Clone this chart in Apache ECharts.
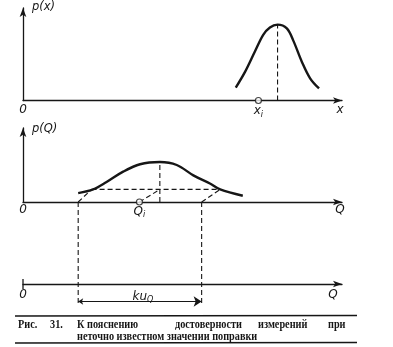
<!DOCTYPE html>
<html>
<head>
<meta charset="utf-8">
<script src="https://cdn.jsdelivr.net/npm/echarts@6/dist/echarts.min.js"></script>
<style>html,body{margin:0;padding:0;background:#fff}#c{width:393px;height:347px}</style>
</head>
<body>
<div id="c"></div>
<script>
// ---- top panel: p(x) ----
const xCurve = [66.7, 69.6, 72.7, 75.3, 77.4, 79.8, 82.7, 84.7, 87.4, 90.0, 92.8];
const pxCurve = [0.14, 0.31, 0.53, 0.71, 0.79, 0.82, 0.78, 0.65, 0.42, 0.24, 0.13];
const xPeak = 79.8, pxPeak = 0.82, xMeas = 73.8;
const topLabels = [[0, '0'], [73.8, 'xi'], [99.4, 'x']];
// ---- middle panel: p(Q) ----
const qCurve = [17.3, 22.0, 26.2, 31.4, 36.7, 42.9, 48.2, 53.4, 58.6, 61.8, 68.9];
const pqCurve = [0.12, 0.17, 0.27, 0.41, 0.51, 0.54, 0.50, 0.36, 0.25, 0.17, 0.085];
const qPeak = 42.9, pqPeak = 0.54, qMeas = 36.5;
const level = 0.17, levelLeft = 21.5, levelRight = 61.8;
const qLow = 17.3, qHigh = 56.0;
const midLabels = [[0, '0'], [36.5, 'Qi'], [99.4, 'Q']];
// ---- bottom panel ----
const botLabels = [[0, '0'], [37.6, 'kuQ'], [97.2, 'Q']];
const bandTop = 82, bandBottom = -22, arrowLevel = -17.5, tickHalf = 5;
const caption1 = [['Рис.', 18], ['31.', 50], ['К пояснению', 77], ['достоверности', 175], ['измерений', 258], ['при', 328]];
const caption2 = 'неточно известном значении поправки';

const INK = '#161616';
const lblFont = 'DejaVu Sans';
const rich = {
  m: {fontFamily: lblFont, fontStyle: 'italic', fontSize: 12, color: INK},
  s: {fontFamily: lblFont, fontStyle: 'italic', fontSize: 8, color: INK, padding: [7, 0, 0, 0]}
};
function fmt(map) {
  return function (v) {
    for (const [k, t] of map) {
      if (Math.abs(k - v) < 0.01) {
        if (t === 'xi') return '{m|x}{s|i}';
        if (t === 'Qi') return '{m|Q}{s|i}';
        if (t === 'kuQ') return '{m|ku}{s|Q}';
        return '{m|' + t + '}';
      }
    }
    return '';
  };
}
function xAx(grid, labels, margin) {
  return {
    type: 'value', gridIndex: grid, min: 0, max: 100,
    axisLine: {show: true, onZero: false, symbol: ['none', 'arrow'], symbolSize: [5, 9], lineStyle: {color: INK, width: 1.3}},
    axisTick: {show: false}, splitLine: {show: false},
    axisLabel: {show: true, customValues: labels.map(l => l[0]), formatter: fmt(labels), margin: margin, rich: rich, color: INK}
  };
}
function yAx(grid, name, show, min, max, gap) {
  return {
    type: 'value', gridIndex: grid, min: min, max: max, show: show,
    name: name, nameLocation: 'end', nameGap: gap,
    nameTextStyle: {fontFamily: lblFont, fontStyle: 'italic', fontSize: 11.5, color: INK, align: 'left', verticalAlign: 'middle', padding: [0, 0, 0, 9]},
    axisLine: {show: show, symbol: ['none', 'arrow'], symbolSize: [5, 9], lineStyle: {color: INK, width: 1.3}},
    axisTick: {show: false}, axisLabel: {show: false}, splitLine: {show: false}
  };
}
const dashed = {color: INK, width: 1.1, type: [5, 3]};
function seg(grid, pts, style) {
  return {type: 'line', xAxisIndex: grid, yAxisIndex: grid, data: pts, symbol: 'none', lineStyle: style, silent: true, clip: false};
}
function curve(grid, xs, ys) {
  return {type: 'line', xAxisIndex: grid, yAxisIndex: grid, smooth: 0.35, symbol: 'none',
    data: xs.map((x, i) => [x, ys[i]]), lineStyle: {color: INK, width: 2.4}};
}
function ring(grid, x) {
  return {type: 'scatter', xAxisIndex: grid, yAxisIndex: grid, data: [[x, 0]], symbol: 'circle', symbolSize: 6,
    itemStyle: {color: '#fff', borderColor: INK, borderWidth: 1.2}, z: 5, clip: false};
}

const capFont = 'bold 12.5px "Liberation Serif"';
const graphics = [];
graphics.push({type: 'line', shape: {x1: 15, y1: 316, x2: 357, y2: 315.5}, style: {stroke: INK, lineWidth: 1.6}});
graphics.push({type: 'line', shape: {x1: 15, y1: 343, x2: 357, y2: 342.5}, style: {stroke: INK, lineWidth: 1.4}});
for (const [t, x] of caption1) {
  graphics.push({type: 'text', x: x, y: 318, scaleX: 0.82, style: {text: t, font: capFont, fill: INK, verticalAlign: 'top'}});
}
graphics.push({type: 'text', x: 77, y: 330, scaleX: 0.82, style: {text: caption2, font: capFont, fill: INK, verticalAlign: 'top'}});

const option = {
  backgroundColor: '#fff',
  animation: false,
  grid: [
    {left: 23, right: 51, top: 8, height: 92.5},
    {left: 23, right: 51, top: 128, height: 74},
    {left: 23, right: 51, top: 202, height: 82}
  ],
  xAxis: [xAx(0, topLabels, 3), xAx(1, midLabels, 2), xAx(2, botLabels, 5)],
  yAxis: [yAx(0, 'p(x)', true, 0, 1, 1), yAx(1, 'p(Q)', true, 0, 1, -1), yAx(2, '', false, 0, bandTop, 0)],
  graphic: graphics,
  series: [
    curve(0, xCurve, pxCurve),
    seg(0, [[xPeak, 0], [xPeak, pxPeak]], dashed),
    ring(0, xMeas),
    curve(1, qCurve, pqCurve),
    seg(1, [[levelLeft, level], [levelRight, level]], dashed),
    seg(1, [[qPeak, 0], [qPeak, pqPeak]], dashed),
    seg(1, [[qLow, 0], [levelLeft, level]], dashed),
    seg(1, [[qMeas, 0], [qPeak, level]], dashed),
    seg(1, [[qHigh, 0], [levelRight, level]], dashed),
    ring(1, qMeas),
    seg(2, [[qLow, bandTop], [qLow, bandBottom]], dashed),
    seg(2, [[qHigh, bandTop], [qHigh, bandBottom]], dashed),
    seg(2, [[0, -tickHalf], [0, tickHalf]], {color: INK, width: 1.3}),
    {type: 'lines', coordinateSystem: 'cartesian2d', xAxisIndex: 2, yAxisIndex: 2, clip: false,
      symbol: ['arrow', 'arrow'], symbolSize: [5, 8],
      lineStyle: {color: INK, width: 1.1, opacity: 1},
      data: [{coords: [[qLow, arrowLevel], [qHigh, arrowLevel]]}]}
  ]
};
const chart = echarts.init(document.getElementById('c'), null, {renderer: 'canvas'});
chart.setOption(option);
</script>
</body>
</html>
